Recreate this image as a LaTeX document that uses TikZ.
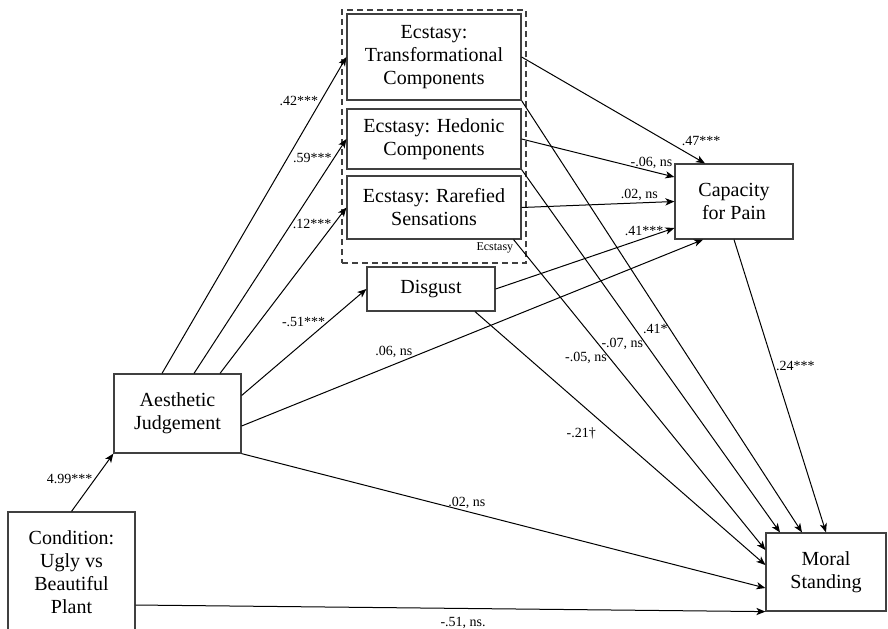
\documentclass[tikz,border=0pt]{standalone}
\usepackage{fontspec}
\setmainfont{Liberation Serif}
\usepackage{tikz}
\usetikzlibrary{arrows.meta}

\newcommand{\coefsize}{\fontsize{7}{8}\selectfont}

\begin{document}
\begin{tikzpicture}[x=0.5pt,y=-0.5pt,
    box/.style={draw=black!75, line width=0.6pt, align=center, inner sep=1pt, font=\fontsize{10}{11.5}\selectfont},
    link/.style={->,>={Stealth[length=4.5pt,width=3.6pt,inset=1.2pt]}, line width=0.5pt},
    coef/.style={font=\coefsize, inner sep=1pt}]
      \useasboundingbox (0,0) rectangle (888,628);
           \node[box, minimum width=87pt, minimum height=43pt](trans)  at (434,57) {Ecstasy:\\Transformational\\Components};
           \node[box, minimum width=87pt, minimum height=30pt](hedon)  at (434,139) {Ecstasy: Hedonic\\Components};
           \node[box, minimum width=87pt, minimum height=31.5pt](raref)  at (434,207.5) {Ecstasy: Rarefied\\Sensations};
           \node[draw=black!75, densely dashed, line width=0.6pt, minimum width=92pt, minimum height=126.5pt](ecs)  at (434,136.5) {};
           \node[font=\fontsize{6}{7}\selectfont, anchor=south east, inner sep=0pt](ecslabel)  at ([xshift=-6.5pt,yshift=5pt]ecs.south east) {Ecstasy};
           \node[box, minimum width=64pt, minimum height=22pt](disg)  at (431,289) {Disgust};
           \node[box, minimum width=59pt, minimum height=37.5pt](pain)  at (734,201.5) {Capacity\\for Pain};
           \node[box, minimum width=60pt, minimum height=39pt](moral)  at (826,572) {Moral\\Standing};
           \node[box, minimum width=63.5pt, minimum height=39.5pt](aesth)  at (177.5,413.5) {Aesthetic\\Judgement};
           \node[box, minimum width=63.5pt, minimum height=60pt](cond)  at (71.5,572) {Condition:\\Ugly vs\\Beautiful\\Plant};
      \draw[link] (cond.north) -- node[coef, pos=0.56, left]{4.99***} (aesth.south west);
      \draw[link] ([xshift=-7.75pt]aesth.north) -- node[coef, pos=0.86, left]{.42***} (trans.west);
      \draw[link] ([xshift=8.25pt]aesth.north) -- node[coef, pos=0.92, left]{.59***} (hedon.west);
      \draw[link] ([xshift=21.25pt]aesth.north) -- node[coef, pos=0.9, left]{.12***} (raref.west);
      \draw[link] ([yshift=9pt]aesth.east) -- node[coef, pos=0.69, left]{-.51***} (disg.west);
      \draw[link] ([yshift=-6.25pt]aesth.east) -- node[coef, pos=0.33, above=2pt]{.06, ns} ([xshift=-15.5pt]pain.south);
      \draw[link] (aesth.south east) -- node[coef, pos=0.43, above]{.02, ns} ([yshift=-8pt]moral.west);
      \draw[link] ([yshift=-16.5pt]cond.east) -- node[coef, pos=0.52, below=3pt]{-.51, ns.} (moral.south west);
      \draw[link] (trans.east) -- node[coef, pos=0.86, above right=0pt]{.47***} ([xshift=-14.5pt]pain.north);
      \draw[link] (hedon.east) -- node[coef, pos=0.85, above]{-.06, ns} ([yshift=12.25pt]pain.west);
      \draw[link] (raref.east) -- node[coef, pos=0.77, above]{.02, ns} (pain.west);
      \draw[link] (disg.east) -- node[coef, pos=0.83, above]{.41***} ([yshift=-13.25pt]pain.west);
      \draw[link] (pain.south) -- node[coef, pos=0.43, right]{.24***} (moral.north);
      \draw[link] (trans.south east) -- node[coef, pos=0.53, left]{.41*} ([xshift=-12pt]moral.north);
      \draw[link] (hedon.south east) -- node[coef, pos=0.48, left]{-.07, ns} ([xshift=-23pt]moral.north);
      \draw[link] ([xshift=-4pt]raref.south east) -- node[coef, pos=0.38, left]{-.05, ns} ([yshift=11pt]moral.west);
      \draw[link] ([xshift=22pt]disg.south) -- node[coef, pos=0.48, left=8pt]{-.21†} ([yshift=3.5pt]moral.west);
\end{tikzpicture}
\end{document}
